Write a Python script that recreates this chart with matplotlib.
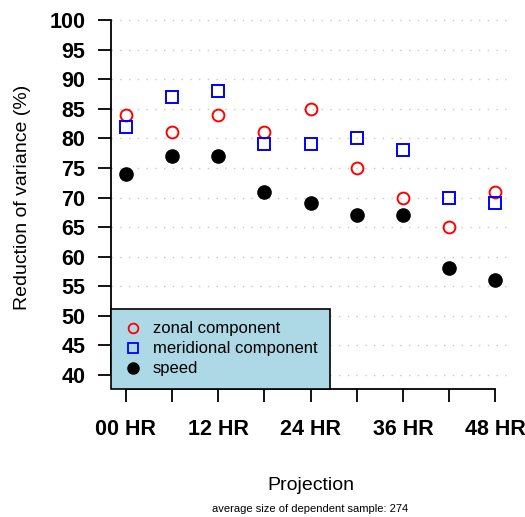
import matplotlib
matplotlib.use("Agg")
import matplotlib.pyplot as plt
from matplotlib.lines import Line2D

plt.rcParams["font.family"] = ["Liberation Sans", "DejaVu Sans"]

# Forecast projections (hours) and reduction of variance (%)
hours = [0, 6, 12, 18, 24, 30, 36, 42, 48]
zonal = [84, 81, 84, 81, 85, 75, 70, 65, 71]
meridional = [82, 87, 88, 79, 79, 80, 78, 70, 69]
speed = [74, 77, 77, 71, 69, 67, 67, 58, 56]

tick_labels = ["00 HR", "", "12 HR", "", "24 HR", "", "36 HR", "", "48 HR"]
y_ticks = list(range(40, 101, 5))
sample_size = 274

fig = plt.figure(figsize=(5.25, 5.17), dpi=100)
ax = fig.add_axes([111 / 525, 1 - 389 / 517, 399 / 525, 383 / 517])

ax.set_xlim(-1.92, 49.92)
ax.set_ylim(37.6, 102.4)

# dotted horizontal guide lines
for y in y_ticks:
    ax.axhline(y, color="#c8c8c8", lw=1.0, ls=(0, (1, 5.3)), zorder=0)

ax.plot(hours, zonal, "o", ms=8.5, mfc="none", mec="red", mew=1.4, zorder=3)
ax.plot(hours, meridional, "s", ms=8, mfc="none", mec="blue", mew=1.4, zorder=3)
ax.plot(hours, speed, "o", ms=9.5, mfc="black", mec="black", zorder=3)

# R-style detached axes
for side in ["top", "right"]:
    ax.spines[side].set_visible(False)
ax.spines["left"].set_bounds(40, 100)
ax.spines["bottom"].set_bounds(0, 48)
for side in ["left", "bottom"]:
    ax.spines[side].set_linewidth(1.3)

ax.set_xticks(hours)
ax.set_xticklabels(tick_labels, fontsize=15.5, fontweight="bold")
ax.set_yticks(y_ticks)
ax.set_yticklabels([str(v) for v in y_ticks], fontsize=15.5, fontweight="bold")
ax.tick_params(axis="both", direction="out", length=9.5, width=1.3)
ax.tick_params(axis="x", pad=12)
ax.tick_params(axis="y", pad=9)

ax.set_ylabel("Reduction of variance (%)", fontsize=14, labelpad=13)
ax.set_xlabel("Projection", fontsize=14, labelpad=27)
fig.text(310 / 525, 1 - 509 / 517,
         f"average size of dependent sample: {sample_size}",
         ha="center", va="center", fontsize=8)

handles = [
    Line2D([], [], ls="none", marker="o", ms=7, mfc="none", mec="red", mew=1.3),
    Line2D([], [], ls="none", marker="s", ms=6.5, mfc="none", mec="blue", mew=1.3),
    Line2D([], [], ls="none", marker="o", ms=8, mfc="black", mec="black"),
]
leg = ax.legend(handles, ["zonal component", "meridional component", "speed"],
                loc="lower left", bbox_to_anchor=(0.0, 0.0), bbox_transform=ax.transAxes,
                fontsize=12, frameon=True, fancybox=False, borderaxespad=0,
                handletextpad=0.65, labelspacing=0.3, borderpad=0.75,
                handlelength=1.1)
frame = leg.get_frame()
frame.set_facecolor("#add8e6")
frame.set_edgecolor("black")
frame.set_linewidth(1.2)
frame.set_alpha(1)
leg.set_zorder(5)

fig.savefig("out.png", dpi=100)
